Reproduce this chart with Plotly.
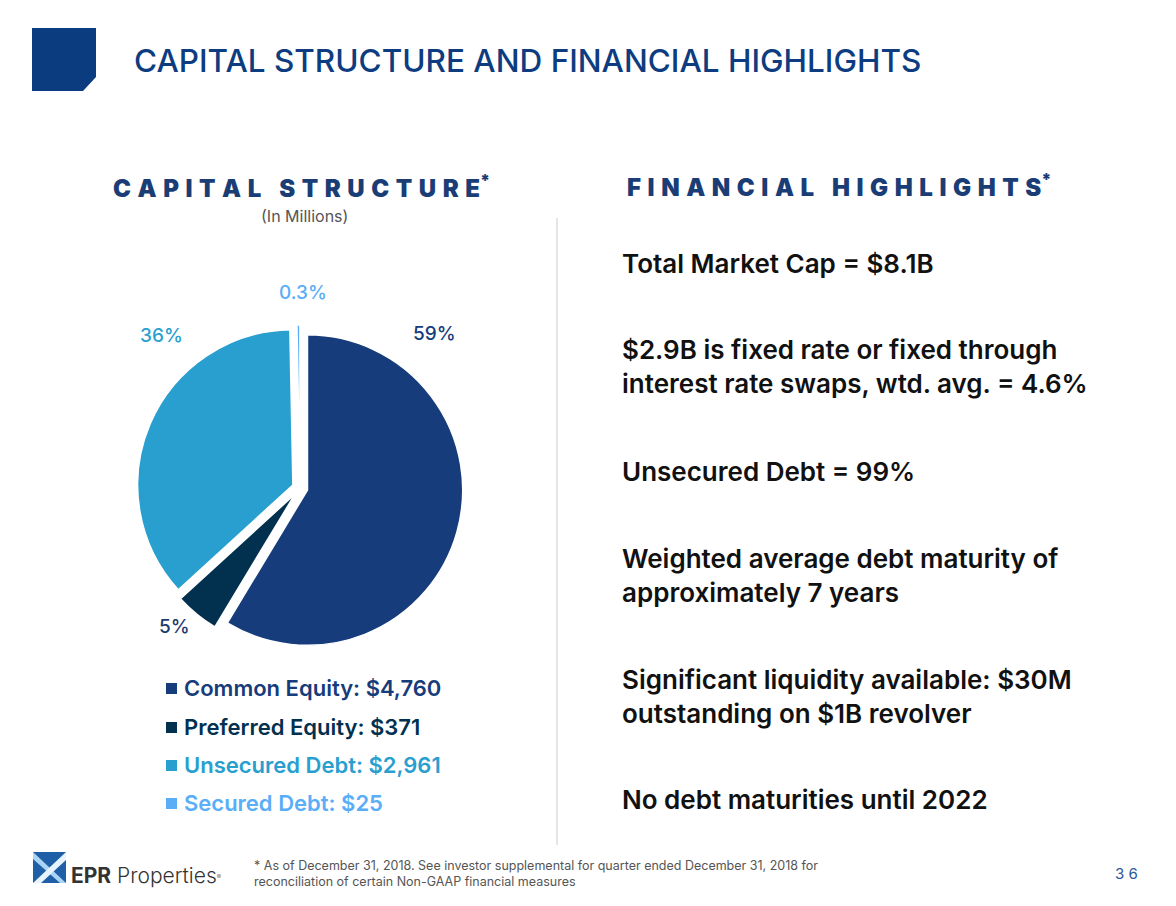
import plotly.graph_objects as go

W, H = 1176, 906

categories = ["Common Equity", "Preferred Equity", "Unsecured Debt", "Secured Debt"]
amounts = [4760, 371, 2961, 25]  # $ millions
pct_labels = ["59%", "5%", "36%", "0.3%"]
colors = ["#173c7b", "#02304f", "#299fd0", "#5aaef7"]

highlights = [
    "Total Market Cap = $8.1B",
    "$2.9B is fixed rate or fixed through<br>interest rate swaps, wtd. avg. = 4.6%",
    "Unsecured Debt = 99%",
    "Weighted average debt maturity of<br>approximately 7 years",
    "Significant liquidity available: $30M<br>outstanding on $1B revolver",
    "No debt maturities until 2022",
]

NAVY = "#0d3d80"
FONT = "Inter"


def px(x):
    return x / W


def py(y):
    return 1 - y / H


def spaced(s):
    # fake letter spacing with thin + hair spaces
    return "\u2009\u200a\u200a".join(s)


fig = go.Figure()

fig.add_trace(
    go.Pie(
        labels=categories,
        values=amounts,
        sort=False,
        direction="clockwise",
        rotation=0,
        pull=[0.05, 0.05, 0.05, 0.05],
        marker=dict(colors=colors, line=dict(color="white", width=1.5)),
        textinfo="none",
        hoverinfo="label+value+percent",
        showlegend=False,
        domain=dict(x=[px(137), px(463)], y=[py(651), py(325)]),
    )
)

ann = []
shapes = []

# header block with clipped corner
shapes.append(
    dict(
        type="path",
        xref="paper", yref="paper",
        path=f"M {px(32)} {py(28)} L {px(96)} {py(28)} L {px(96)} {py(77)} "
             f"L {px(83)} {py(91)} L {px(32)} {py(91)} Z",
        fillcolor="#0b3c80", line=dict(width=0),
    )
)
ann.append(dict(x=px(132), y=py(60), text="CAPITAL STRUCTURE AND FINANCIAL HIGHLIGHTS",
                xanchor="left", yanchor="middle",
                font=dict(family=FONT, size=31.5, color=NAVY, weight=500)))

# section headings
ann.append(dict(x=px(111), y=py(187), text=spaced("CAPITAL STRUCTURE") + "<sup>*</sup>",
                xanchor="left", yanchor="middle",
                font=dict(family=FONT, size=24, color="#1a3d75", weight=900)))
ann.append(dict(x=px(304), y=py(216), text="(In Millions)", xanchor="center", yanchor="middle",
                font=dict(family=FONT, size=16, color="#555555")))
ann.append(dict(x=px(625), y=py(186), text=spaced("FINANCIAL HIGHLIGHTS") + "<sup>*</sup>",
                xanchor="left", yanchor="middle",
                font=dict(family=FONT, size=24, color="#1a3d75", weight=900)))

# separator
shapes.append(dict(type="line", xref="paper", yref="paper",
                   x0=px(557), x1=px(557), y0=py(218), y1=py(845),
                   line=dict(color="#dddddd", width=1.5)))

# pie percentage labels
label_pos = [(434, 333), (174, 626), (162, 335), (303, 292)]
label_cols = ["#173c7b", "#1e3a6e", "#299fd0", "#5aaef7"]
for t, (lx, ly), c in zip(pct_labels, label_pos, label_cols):
    ann.append(dict(x=px(lx), y=py(ly), text=t, xanchor="center", yanchor="middle",
                    font=dict(family=FONT, size=19, color=c, weight=500)))

# legend
leg_y = [688, 727, 765, 803]
for cat, val, c, ly in zip(categories, amounts, colors, leg_y):
    shapes.append(dict(type="rect", xref="paper", yref="paper",
                       x0=px(166), x1=px(177), y0=py(ly + 6), y1=py(ly - 5),
                       fillcolor=c, line=dict(width=0)))
    ann.append(dict(x=px(182), y=py(ly), text=f"{cat}: ${val:,}", xanchor="left", yanchor="middle",
                    font=dict(family=FONT, size=22, color=c, weight=600)))

# highlights
hl_y = [263, 367, 471, 575, 696, 799]
for t, hy in zip(highlights, hl_y):
    ann.append(dict(x=px(620), y=py(hy), text=t, xanchor="left", yanchor="middle", align="left",
                    font=dict(family=FONT, size=26, color="#111111", weight=600)))

# footer logo
shapes.append(dict(type="rect", xref="paper", yref="paper",
                   x0=px(33), x1=px(66), y0=py(883), y1=py(852),
                   fillcolor="#1f5fa8", line=dict(width=0)))
shapes.append(dict(type="path", xref="paper", yref="paper",
                   path=f"M {px(33)} {py(852)} L {px(66)} {py(883)} L {px(60)} {py(883)} L {px(33)} {py(859)} Z",
                   fillcolor="#a9d4f5", line=dict(width=0)))
shapes.append(dict(type="path", xref="paper", yref="paper",
                   path=f"M {px(66)} {py(852)} L {px(33)} {py(883)} L {px(41)} {py(883)} L {px(66)} {py(860)} Z",
                   fillcolor="#e8f4fd", line=dict(width=0)))
ann.append(dict(x=px(69), y=py(875),
                text="<b>EPR</b> Properties<span style='font-size:9px'><sup>®</sup></span>",
                xanchor="left", yanchor="middle",
                font=dict(family=FONT, size=21, color="#333333", weight=300)))
ann.append(dict(x=px(252), y=py(873),
                text="* As of December 31, 2018. See investor supplemental for quarter ended December 31, 2018 for"
                     "<br>reconciliation of certain Non-GAAP financial measures",
                xanchor="left", yanchor="middle", align="left",
                font=dict(family=FONT, size=12.5, color="#555555")))
ann.append(dict(x=px(1140), y=py(873), text="3 6", xanchor="right", yanchor="middle",
                font=dict(family=FONT, size=15, color="#2a5a9a")))

for a in ann:
    a.update(xref="paper", yref="paper", showarrow=False)

fig.update_layout(
    width=W,
    height=H,
    margin=dict(l=0, r=0, t=0, b=0),
    paper_bgcolor="white",
    plot_bgcolor="white",
    annotations=ann,
    shapes=shapes,
)

fig.write_html("out.html", config={"displayModeBar": False},
               post_script="document.body.style.margin='0';")
